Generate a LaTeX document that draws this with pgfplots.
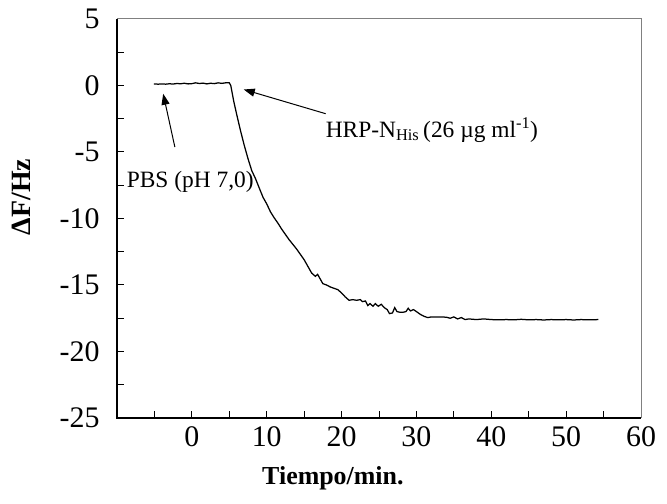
\documentclass[border=0pt]{standalone}
\usepackage{fontspec}
\setmainfont{Liberation Serif}
\usepackage{pgfplots}
\pgfplotsset{compat=1.18}
\usetikzlibrary{arrows.meta}
\begin{document}
\begin{tikzpicture}
\path[use as bounding box] (0,0) rectangle (667bp,504bp);
\begin{axis}[
  at={(117bp,86bp)}, anchor=south west,
  width=524bp, height=399bp, scale only axis,
  xmin=-10, xmax=60, ymin=-25, ymax=5,
  xtick={0,10,...,60}, minor xtick={-5,5,...,55},
  ytick={-25,-20,...,5}, minor ytick={-22.5,-17.5,...,2.5},
  xtick pos=bottom, ytick pos=left,
  tick align=inside,
  major tick length=7bp, minor tick length=7bp,
  every tick/.style={black, line width=1bp},
  /pgf/number format/assume math mode=true,
  tick label style={font=\fontsize{30}{32}\selectfont},
  xticklabel style={yshift=-5bp},
  yticklabel style={xshift=-14bp},
  axis line style={draw=gray, line width=1bp},
  xlabel={\bfseries Tiempo/min.},
  xlabel style={font=\fontsize{26}{28}\selectfont, at={(axis description cs:0.412,-0.152)}, anchor=center},
  ylabel={\bfseries ΔF/Hz},
  ylabel style={font=\fontsize{28}{30}\selectfont, at={(axis description cs:-0.183,0.554)}, anchor=center},
  clip=false,
]
\draw[black, line width=1.3bp] (rel axis cs:0,1) -- (rel axis cs:0,0) -- (rel axis cs:1,0);
\addplot[black, line width=1.25bp, mark=none] coordinates {
(-5.07,0.12) (-4.5,0.1) (-4,0.12) (-3.5,0.1) (-3,0.13) (-2.5,0.11) (-2,0.15) (-1.5,0.13) (-1,0.17) (-0.5,0.12) (0,0.14) (0.5,0.2) (1,0.15) (1.5,0.18) (2,0.12) (2.5,0.17) (3,0.14) (3.5,0.2) (4,0.16) (4.5,0.2) (5.0,0.2)
(5.2,0.0) (5.6,-1.2) (6,-2.2) (6.5,-3.4) (7,-4.5) (7.5,-5.5) (8,-6.4) (8.5,-7.0) (9,-7.7) (9.5,-8.4) (10,-8.9) (10.5,-9.5) (11,-9.95) (11.5,-10.35) (12,-10.8) (12.5,-11.2) (13,-11.6) (13.5,-11.95) (14,-12.3) (14.5,-12.7) (15,-13.1) (15.5,-13.6) (16,-14.1) (16.5,-14.35) (16.8,-14.2) (17.2,-14.6) (17.5,-14.9) (18,-15.0) (18.5,-15.15) (19,-15.25) (19.5,-15.35) (20,-15.6) (20.5,-15.9) (21,-16.15) (21.5,-16.1) (22,-16.15) (22.5,-16.1) (22.8,-16.25) (23.2,-16.2) (23.5,-16.55) (23.8,-16.4) (24.2,-16.6) (24.5,-16.4) (24.9,-16.6) (25.3,-16.45) (25.7,-16.7) (26.1,-16.85) (26.4,-17.15) (26.8,-17.1) (27.1,-16.7) (27.4,-17.0) (27.8,-17.05) (28.2,-17.05) (28.6,-17.0) (28.9,-16.75) (29.2,-16.95) (29.6,-16.85) (30,-17.0) (30.5,-17.2) (31,-17.35) (31.5,-17.45) (32,-17.4) (33,-17.4) (34,-17.42) (34.5,-17.5) (35,-17.4) (35.5,-17.55) (36,-17.45) (36.5,-17.6) (37,-17.55) (38,-17.6) (39,-17.55) (40,-17.6) (41,-17.62) (42,-17.6) (43,-17.62) (44,-17.58) (45,-17.62) (46,-17.6) (47,-17.63) (48,-17.6) (49,-17.62) (50,-17.6) (51,-17.63) (52,-17.6) (53,-17.62) (54.3,-17.6)
};
\draw[-{Triangle[length=11bp,width=8bp]}, line width=1bp] (axis cs:-2.27,-4.63) -- (axis cs:-3.83,-0.62);
\draw[-{Triangle[length=11bp,width=8bp]}, line width=1bp] (axis cs:17.87,-2.12) -- (axis cs:6.93,-0.3);
\node[anchor=base west, inner sep=0pt, font=\fontsize{23.5}{25}\selectfont] at (axis cs:-8.71,-7.67) {PBS (pH 7,0)};
\node[anchor=base west, inner sep=0pt, font=\fontsize{23.5}{25}\selectfont] at (axis cs:17.87,-3.88) {HRP-N\textsubscript{His}\,(26 µg ml\textsuperscript{-1})};
\end{axis}
\end{tikzpicture}
\end{document}
